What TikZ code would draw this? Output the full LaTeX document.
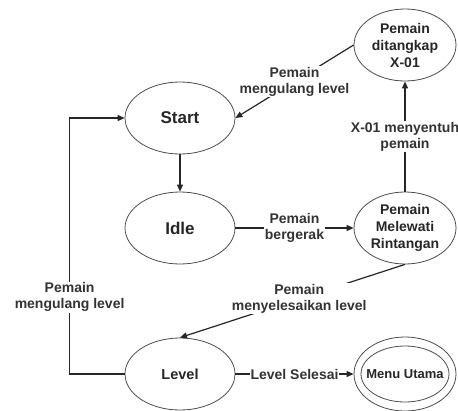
\documentclass[tikz,border=0pt]{standalone}
\usepackage{fontspec}
\setmainfont{Liberation Sans}
\usetikzlibrary{arrows.meta,shapes.geometric}

\begin{document}
\begin{tikzpicture}[x=1pt,y=-1pt,
  state/.style={ellipse,draw=black!70,line width=0.8pt,minimum width=110pt,minimum height=72pt,
    inner sep=0pt,align=center,text=black!85,font=\bfseries\fontsize{14}{17}\selectfont},
  bigtext/.style={font=\bfseries\fontsize{17}{20}\selectfont},
  trans/.style={draw=black!85,line width=1.2pt,-{Triangle[length=7pt,width=6pt]}},
  lbl/.style={fill=white,inner sep=1pt,align=center,text=black!80,font=\bfseries\fontsize{14}{16}\selectfont}]
  \useasboundingbox (0,0) rectangle (458,410);

  \node[state,bigtext] (start) at (180,118) {Start};
  \node[state,bigtext] (idle) at (180,228) {Idle};
  \node[state,font=\bfseries\fontsize{14.5}{17}\selectfont] (level) at (180,374) {Level};
  \node[state,minimum width=102pt] (ditangkap) at (405,45) {Pemain\\ditangkap\\X-01};
  \node[state,minimum width=102pt] (melewati) at (405,228) {Pemain\\Melewati\\Rintangan};
  \node[state,minimum width=102pt,minimum height=74pt] (menu) at (405,374) {};
  % final state: second ring inside
  \draw[black!70,line width=0.8pt] (menu.center) ellipse [x radius=44,y radius=28];
  \node[text=black!85,font=\bfseries\fontsize{13}{15}\selectfont] (menutext) at (menu) {Menu Utama};

  \draw[trans] (start) -- (idle);
  \draw[trans] (idle) -- node[lbl] {Pemain\\bergerak} (melewati);
  \draw[trans] (melewati) -- node[lbl] {X-01 menyentuh\\pemain} (ditangkap);
  \draw[trans] (ditangkap.west) -- node[lbl] {Pemain\\mengulang level} (start.east);
  \draw[trans] (melewati.south) -- node[lbl,pos=0.47] {Pemain\\menyelesaikan level} (level.north);
  \draw[trans] (level) -- node[lbl] {Level Selesai} (menu);
  \draw[trans] (level.west) -- ++(-55,0) |- node[lbl,pos=0.15] {Pemain\\mengulang level} (start.west);
\end{tikzpicture}
\end{document}
